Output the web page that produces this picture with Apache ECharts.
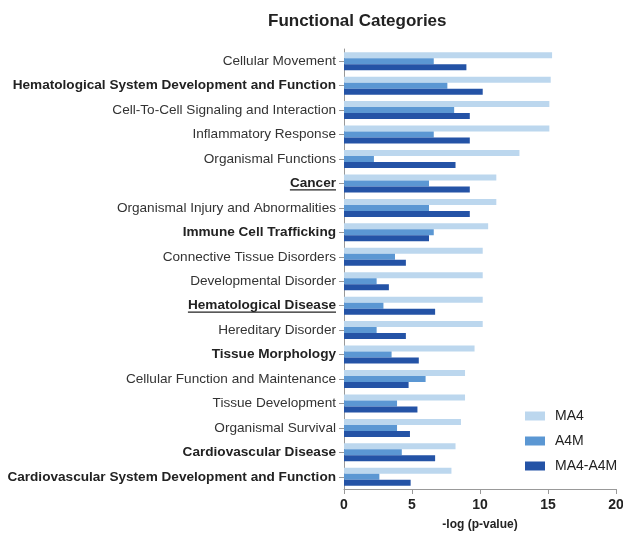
<!DOCTYPE html>
<html>
<head>
<meta charset="utf-8">
<script src="https://cdn.jsdelivr.net/npm/echarts@6/dist/echarts.min.js"></script>
<style>
  html, body { margin: 0; padding: 0; background: #fff; }
  #chart { width: 623px; height: 533px; }
</style>
</head>
<body>
<div id="chart"></div>
<script>
// 类别（从上到下）
var categories = [
  'Cellular Movement',
  'Hematological System Development and Function',
  'Cell-To-Cell Signaling and Interaction',
  'Inflammatory Response',
  'Organismal Functions',
  'Cancer',
  'Organismal Injury and Abnormalities',
  'Immune Cell Trafficking',
  'Connective Tissue Disorders',
  'Developmental Disorder',
  'Hematological Disease',
  'Hereditary Disorder',
  'Tissue Morphology',
  'Cellular Function and Maintenance',
  'Tissue Development',
  'Organismal Survival',
  'Cardiovascular Disease',
  'Cardiovascular System Development and Function'
]
// 加粗 / 下划线的类别
var boldCats = ['Hematological System Development and Function', 'Immune Cell Trafficking',
  'Tissue Morphology', 'Cardiovascular Disease', 'Cardiovascular System Development and Function']
var underlineCats = ['Cancer', 'Hematological Disease']

var seriesNames = ['MA4', 'A4M', 'MA4-A4M']
var ma4 = [15.3, 15.2, 15.1, 15.1, 12.9, 11.2, 11.2, 10.6, 10.2, 10.2, 10.2, 10.2, 9.6, 8.9, 8.9, 8.6, 8.2, 7.9]
var a4m = [6.6, 7.6, 8.1, 6.6, 2.2, 6.25, 6.25, 6.6, 3.75, 2.4, 2.9, 2.4, 3.5, 6.0, 3.9, 3.9, 4.25, 2.6]
var ma4a4m = [9.0, 10.2, 9.25, 9.25, 8.2, 9.25, 9.25, 6.25, 4.55, 3.3, 6.7, 4.55, 5.5, 4.75, 5.4, 4.85, 6.7, 4.9]
var colors = ['#bcd7ee', '#5b97d3', '#2453a6']
var xTicks = { min: 0, max: 20, interval: 5 }

var FONT = 'Liberation Sans'
var LABEL_SIZE = 13.6
var LABEL_MARGIN = 8

var chart = echarts.init(document.getElementById('chart'))

function catLabel(value) {
  if (underlineCats.indexOf(value) > -1 || boldCats.indexOf(value) > -1) {
    return '{b|' + value + '}'
  }
  return value
}

var seriesData = [ma4, a4m, ma4a4m]
var series = []
for (var i = 0; i < seriesNames.length; i++) {
  series.push({
    name: seriesNames[i],
    type: 'bar',
    data: seriesData[i],
    barWidth: 6,
    barGap: '0%',
    itemStyle: { color: colors[i] },
    emphasis: { disabled: true }
  })
}

var option = {
  animation: false,
  title: {
    text: 'Functional Categories',
    left: 263,
    top: 8,
    textStyle: { fontFamily: FONT, fontSize: 17, fontWeight: 'bold', color: '#222' }
  },
  legend: {
    orient: 'vertical',
    left: 520,
    top: 404,
    itemWidth: 20,
    itemHeight: 9,
    itemGap: 11,
    icon: 'rect',
    data: seriesNames,
    textStyle: { fontFamily: FONT, fontSize: 14, color: '#222', padding: [0, 0, 0, 5] }
  },
  grid: { left: 344, right: 7, top: 49, bottom: 44, containLabel: false, outerBoundsMode: 'none' },
  xAxis: {
    type: 'value',
    min: xTicks.min,
    max: xTicks.max,
    interval: xTicks.interval,
    name: '-log (p-value)',
    nameLocation: 'middle',
    nameGap: 30,
    nameTextStyle: { fontFamily: FONT, fontSize: 12, fontWeight: 'bold', color: '#222' },
    axisLine: { show: true, lineStyle: { color: '#999', width: 1 } },
    axisTick: { show: true, length: 5, lineStyle: { color: '#999' } },
    axisLabel: { fontFamily: FONT, fontSize: 14, fontWeight: 'bold', color: '#222', margin: 9 },
    splitLine: { show: false }
  },
  yAxis: {
    type: 'category',
    inverse: true,
    data: categories,
    axisLine: { show: true, lineStyle: { color: '#999', width: 1 } },
    axisTick: { show: true, length: 5, alignWithLabel: true, lineStyle: { color: '#999' } },
    axisLabel: {
      interval: 0,
      margin: LABEL_MARGIN,
      fontFamily: FONT,
      fontSize: LABEL_SIZE,
      color: '#333',
      formatter: catLabel,
      rich: {
        b: { fontFamily: FONT, fontSize: LABEL_SIZE, fontWeight: 'bold', color: '#222' }
      }
    }
  },
  series: series
}
chart.setOption(option)

// 下划线：在加下划线的标签下画线
function drawUnderlines() {
  var ctx = document.createElement('canvas').getContext('2d')
  ctx.font = 'bold ' + LABEL_SIZE + 'px "' + FONT + '"'
  var right = 344 - LABEL_MARGIN
  var lines = []
  for (var i = 0; i < underlineCats.length; i++) {
    var c = underlineCats[i]
    var y = chart.convertToPixel({ yAxisIndex: 0 }, c)
    var w = ctx.measureText(c).width
    lines.push({
      type: 'line',
      shape: { x1: right - w, y1: y + 6.5, x2: right, y2: y + 6.5 },
      style: { stroke: '#222', lineWidth: 1.2 },
      silent: true
    })
  }
  chart.setOption({ graphic: lines })
}
drawUnderlines()
</script>
</body>
</html>
